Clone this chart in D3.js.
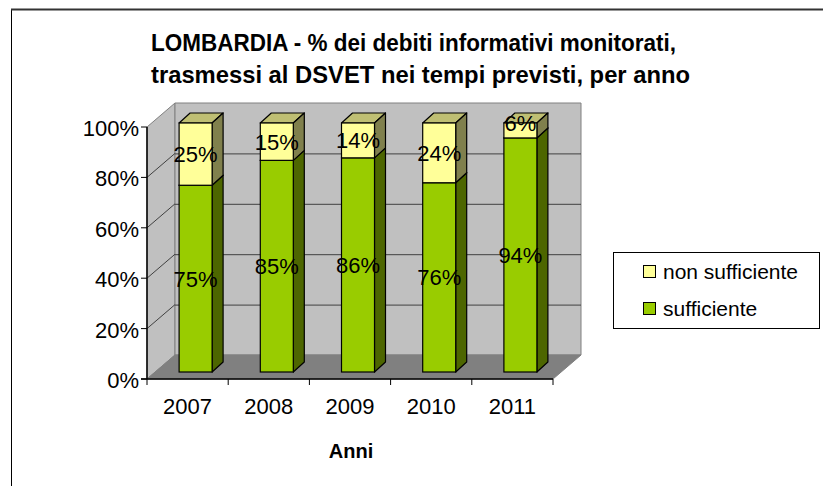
<!DOCTYPE html>
<html>
<head>
<meta charset="utf-8">
<script src="https://cdn.jsdelivr.net/npm/d3@7"></script>
<style>
  body { margin: 0; background: #fff; }
  text { font-family: "Liberation Sans", Arial, sans-serif; }
</style>
</head>
<body>
<div id="chart"></div>
<script>
const years = ['2007', '2008', '2009', '2010', '2011'];
const sufficiente = [75, 85, 86, 76, 94];
const nonSufficiente = [25, 15, 14, 24, 6];
const yTicks = [0, 20, 40, 60, 80, 100];
const titleLines = [
  'LOMBARDIA - % dei debiti informativi monitorati,',
  'trasmessi al DSVET nei tempi previsti, per anno'
];
const legendItems = ['non sufficiente', 'sufficiente'];

const width = 823, height = 486;
const svg = d3.select('#chart').append('svg')
  .attr('width', width).attr('height', height);

// chart area border (runs off the page on right/bottom)
svg.append('rect').attr('x', 11.5).attr('y', 9.5)
  .attr('width', 900).attr('height', 600)
  .attr('fill', '#fff').attr('stroke', '#000').attr('stroke-width', 1);
svg.append('line').attr('x1', 11).attr('x2', 823).attr('y1', 9.5).attr('y2', 9.5)
  .attr('stroke', '#333').attr('stroke-width', 2);

// front plane scales
const x = d3.scaleBand().domain(years).range([147, 553]);
const y = d3.scaleLinear().domain([0, 100]).range([379, 127]);
// bars sit a bit deeper than the front plane
const yBar = d3.scaleLinear().domain([0, 100]).range([372, 123]);
const depth = {dx: 28, dy: -24};
const barOff = {dx: 8, dy: -7};
const barSide = {dx: 11, dy: -10};
const barW = 33;

const pts = a => a.map(p => p.join(',')).join(' ');

// walls
const x0 = x.range()[0], x1 = x.range()[1];
svg.append('polygon')
  .attr('points', pts([[x0, y(0)], [x0, y(100)], [x0 + depth.dx, y(100) + depth.dy], [x0 + depth.dx, y(0) + depth.dy]]))
  .attr('fill', '#c0c0c0').attr('stroke', '#808080');
svg.append('polygon')
  .attr('points', pts([[x0 + depth.dx, y(100) + depth.dy], [x1 + depth.dx, y(100) + depth.dy], [x1 + depth.dx, y(0) + depth.dy], [x0 + depth.dx, y(0) + depth.dy]]))
  .attr('fill', '#c0c0c0').attr('stroke', '#808080');
svg.append('polygon')
  .attr('points', pts([[x0, y(0)], [x1, y(0)], [x1 + depth.dx, y(0) + depth.dy], [x0 + depth.dx, y(0) + depth.dy]]))
  .attr('fill', '#808080').attr('stroke', '#808080');

// gridlines
const grid = yTicks.filter(t => t > 0 && t < 100);
svg.selectAll('.gh').data(grid).join('line')
  .attr('x1', x0 + depth.dx).attr('x2', x1 + depth.dx)
  .attr('y1', d => y(d) + depth.dy + 0.5).attr('y2', d => y(d) + depth.dy + 0.5)
  .attr('stroke', '#404040');
svg.selectAll('.gd').data(grid).join('line')
  .attr('x1', x0).attr('y1', d => y(d))
  .attr('x2', x0 + depth.dx).attr('y2', d => y(d) + depth.dy)
  .attr('stroke', '#404040');

// bars
function box(g, left, top, bottom, cFront, cSide, cTop) {
  const r = left + barW;
  g.append('polygon').attr('points', pts([[left, top], [r, top], [r + barSide.dx, top + barSide.dy], [left + barSide.dx, top + barSide.dy]]))
    .attr('fill', cTop).attr('stroke', '#000').attr('stroke-width', 1.2).attr('stroke-linejoin', 'round');
  g.append('polygon').attr('points', pts([[r, top], [r + barSide.dx, top + barSide.dy], [r + barSide.dx, bottom + barSide.dy], [r, bottom]]))
    .attr('fill', cSide).attr('stroke', '#000').attr('stroke-width', 1.2).attr('stroke-linejoin', 'round');
  g.append('rect').attr('x', left).attr('y', top).attr('width', barW).attr('height', bottom - top)
    .attr('fill', cFront).attr('stroke', '#000').attr('stroke-width', 1.2);
}

const labels = [];
years.forEach((yr, i) => {
  const g = svg.append('g');
  const cx = x(yr) + x.bandwidth() / 2 + barOff.dx;
  const left = cx - barW / 2;
  const s = sufficiente[i], n = nonSufficiente[i];
  box(g, left, yBar(s), yBar(0), '#99cc00', '#4d6600', '#739900');
  box(g, left, yBar(s + n), yBar(s), '#ffff99', '#80804d', '#bfbf73');
  labels.push({cx, cy: (yBar(0) + yBar(s)) / 2, t: s + '%'});
  labels.push({cx, cy: (yBar(s) + yBar(s + n)) / 2, t: n + '%'});
});
svg.selectAll('.bl').data(labels).join('text')
  .attr('x', d => d.cx).attr('y', d => d.cy < 132 ? d.cy + 1 : d.cy + 8)
  .attr('text-anchor', 'middle').attr('font-size', 22).attr('fill', '#000')
  .text(d => d.t);

// axes
svg.append('line').attr('x1', x0).attr('x2', x0).attr('y1', y(100)).attr('y2', y(0))
  .attr('stroke', '#000').attr('stroke-width', 1.5);
svg.append('line').attr('x1', x0 - 6).attr('x2', x1).attr('y1', y(0)).attr('y2', y(0))
  .attr('stroke', '#000').attr('stroke-width', 1.5);
svg.selectAll('.yt').data(yTicks).join('line')
  .attr('x1', x0 - 6).attr('x2', x0).attr('y1', d => y(d)).attr('y2', d => y(d))
  .attr('stroke', '#000');
svg.selectAll('.yl').data(yTicks).join('text')
  .attr('x', 139).attr('y', d => y(d) + 9)
  .attr('text-anchor', 'end').attr('font-size', 22).text(d => d + '%');
const bounds = years.map(d => x(d)).concat([x1]);
svg.selectAll('.xt').data(bounds).join('line')
  .attr('x1', d => d).attr('x2', d => d).attr('y1', y(0)).attr('y2', y(0) + 6)
  .attr('stroke', '#000');
svg.selectAll('.xl').data(years).join('text')
  .attr('x', d => x(d) + x.bandwidth() / 2).attr('y', 414)
  .attr('text-anchor', 'middle').attr('font-size', 22).text(d => d);
svg.append('text').attr('x', 351).attr('y', 458).attr('text-anchor', 'middle')
  .attr('font-size', 20).attr('font-weight', 'bold').text('Anni');

// title
const tw = [525, 539];
svg.selectAll('.title').data(titleLines).join('text')
  .attr('x', 151).attr('y', (d, i) => 51 + i * 32)
  .attr('font-size', 24).attr('font-weight', 'bold')
  .attr('textLength', (d, i) => tw[i]).attr('lengthAdjust', 'spacingAndGlyphs')
  .text(d => d);

// legend
const legend = svg.append('g');
legend.append('rect').attr('x', 613.5).attr('y', 252.5).attr('width', 206).attr('height', 76)
  .attr('fill', '#fff').attr('stroke', '#000');
const legColors = ['#ffff99', '#99cc00'];
legend.selectAll('.ls').data(legendItems).join('rect')
  .attr('x', 643.5).attr('y', (d, i) => 265.5 + i * 37).attr('width', 12).attr('height', 12)
  .attr('fill', (d, i) => legColors[i]).attr('stroke', '#000');
legend.selectAll('.lt').data(legendItems).join('text')
  .attr('x', 663).attr('y', (d, i) => 279 + i * 37)
  .attr('font-size', 21).text(d => d);
</script>
</body>
</html>
